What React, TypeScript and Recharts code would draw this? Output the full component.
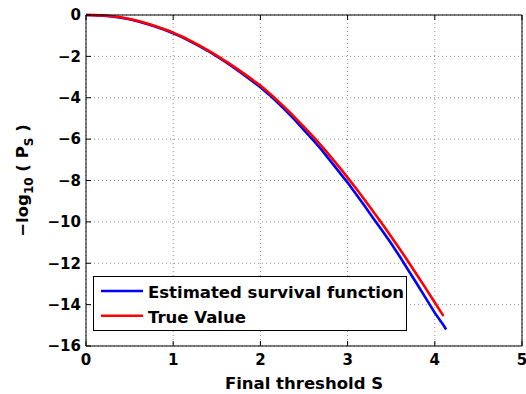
import React from 'react';
import {
  LineChart,
  Line,
  XAxis,
  YAxis,
  CartesianGrid,
  Legend,
} from 'recharts';

// threshold values along the x axis
const S_VALUES = [
  0, 0.1, 0.2, 0.3, 0.4, 0.5, 0.6, 0.7, 0.8, 0.9, 1.0,
  1.1, 1.2, 1.3, 1.4, 1.5, 1.6, 1.7, 1.8, 1.9, 2.0,
  2.1, 2.2, 2.3, 2.4, 2.5, 2.6, 2.7, 2.8, 2.9, 3.0,
  3.1, 3.2, 3.3, 3.4, 3.5, 3.6, 3.7, 3.8, 3.9, 4.0,
  4.1, 4.13,
];

// true -log10(Ps)
const TRUE_VALUES = [
  0, -0.005, -0.025, -0.06, -0.11, -0.19, -0.29, -0.41, -0.54, -0.69, -0.85,
  -1.04, -1.25, -1.47, -1.71, -1.96, -2.23, -2.51, -2.8, -3.1, -3.41,
  -3.77, -4.15, -4.55, -4.97, -5.41, -5.86, -6.33, -6.82, -7.33, -7.86,
  -8.4, -8.96, -9.53, -10.11, -10.71, -11.32, -11.95, -12.59, -13.24, -13.9,
  -14.55, null,
];

// estimated survival function
const ESTIMATED_VALUES = [
  0, -0.01, -0.03, -0.07, -0.13, -0.21, -0.31, -0.43, -0.57, -0.71, -0.88,
  -1.07, -1.28, -1.5, -1.74, -2.0, -2.27, -2.56, -2.86, -3.17, -3.49,
  -3.85, -4.25, -4.66, -5.09, -5.56, -6.02, -6.51, -7.04, -7.57, -8.1,
  -8.68, -9.26, -9.86, -10.44, -11.05, -11.69, -12.36, -13.03, -13.71, -14.4,
  -15.0, -15.2,
];

const X_TICKS = [0, 1, 2, 3, 4, 5];
const Y_TICKS = [-16, -14, -12, -10, -8, -6, -4, -2, 0];

const data = S_VALUES.map((s, i) => ({
  s,
  estimated: ESTIMATED_VALUES[i],
  truth: TRUE_VALUES[i],
}));

const FONT = '"DejaVu Sans", Arial, sans-serif';
const tickStyle = { fontFamily: FONT, fontWeight: 'bold' as const, fontSize: 15, fill: '#000' };

const fmtY = (v: number) => (v < 0 ? `\u2212${-v}` : `${v}`);

const XLabel = ({ viewBox }: any) => {
  if (!viewBox) return null;
  const cx = viewBox.x + viewBox.width / 2;
  return (
    <text x={cx} y={viewBox.y + 43} textAnchor="middle" fontFamily={FONT} fontWeight="bold" fontSize={16.5} fill="#000">
      Final threshold S
    </text>
  );
};

const YLabel = ({ viewBox }: any) => {
  if (!viewBox) return null;
  const cx = 28;
  const cy = viewBox.y + viewBox.height / 2;
  return (
    <text
      x={cx}
      y={cy}
      transform={`rotate(-90, ${cx}, ${cy})`}
      textAnchor="middle"
      fontFamily={FONT}
      fontWeight="bold"
      fontSize={16.5}
      fill="#000"
    >
      <tspan>{'\u2212log'}</tspan>
      <tspan fontSize={12} dy={5}>10</tspan>
      <tspan dy={-5}>{' ( P'}</tspan>
      <tspan fontSize={12} dy={5}>S</tspan>
      <tspan dy={-5}>{' )'}</tspan>
    </text>
  );
};

const LegendBox = ({ payload }: any) => {
  const items = payload || [];
  return (
    <svg width={315} height={56} style={{ display: 'block' }}>
      <rect x={0.5} y={0.5} width={313} height={54} fill="#fff" stroke="#000" strokeWidth={1} />
      {items.map((p: any, i: number) => (
        <g key={p.value}>
          <line x1={8} x2={50} y1={15 + i * 24.7} y2={15 + i * 24.7} stroke={p.color} strokeWidth={2.6} />
          <text x={55} y={21.7 + i * 25} fontFamily={FONT} fontWeight="bold" fontSize={16.5} fill="#000">
            {p.value}
          </text>
        </g>
      ))}
    </svg>
  );
};

export default function App() {
  return (
    <div style={{ position: 'absolute', left: 0, top: 0, width: 526, height: 394, background: '#fff' }}>
      <LineChart width={526} height={394} data={data} margin={{ top: 10, right: 0, bottom: 0, left: 0 }}>
        <CartesianGrid stroke="#8c8c8c" strokeDasharray="1 3" />
        <XAxis
          dataKey="s"
          type="number"
          domain={[0, 5]}
          ticks={X_TICKS}
          height={48}
          stroke="#000"
          tickSize={-5}
          tickMargin={13}
          tick={tickStyle}
          label={<XLabel />}
        />
        <XAxis
          xAxisId="top"
          dataKey="s"
          type="number"
          orientation="top"
          domain={[0, 5]}
          ticks={X_TICKS}
          height={5}
          stroke="#000"
          tickSize={-5}
          tickFormatter={() => ''}
        />
        <YAxis
          type="number"
          domain={[-16, 0]}
          ticks={Y_TICKS}
          width={86}
          stroke="#000"
          tickSize={-5}
          tickMargin={10}
          tick={tickStyle}
          tickFormatter={fmtY}
          label={<YLabel />}
        />
        <YAxis
          yAxisId="right"
          orientation="right"
          type="number"
          domain={[-16, 0]}
          ticks={Y_TICKS}
          width={4}
          stroke="#000"
          tickSize={-5}
          tickFormatter={() => ''}
        />
        <Legend
          layout="horizontal"
          align="center"
          verticalAlign="middle"
          wrapperStyle={{ left: 93, top: 276, width: 315, height: 56 }}
          content={<LegendBox />}
        />
        <Line
          dataKey="estimated"
          name="Estimated survival function"
          stroke="#0000ff"
          strokeWidth={2.6}
          dot={false}
          type="linear"
          isAnimationActive={false}
        />
        <Line
          dataKey="truth"
          name="True Value"
          stroke="#ff0000"
          strokeWidth={2.6}
          dot={false}
          type="monotone"
          isAnimationActive={false}
        />
      </LineChart>
    </div>
  );
}
